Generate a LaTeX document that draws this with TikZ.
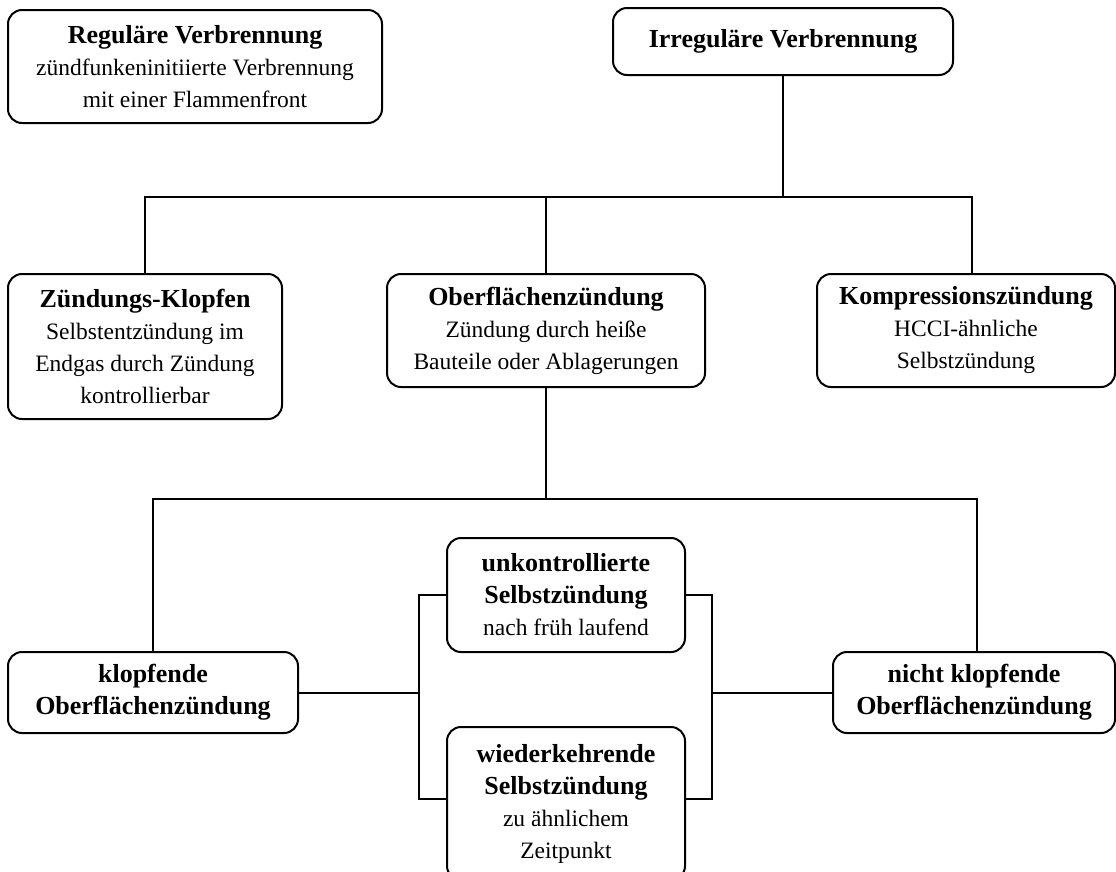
\documentclass[tikz,border=0pt]{standalone}
\usepackage{fontspec}
\setmainfont{Liberation Serif}
\newcommand{\hd}[1]{{\bfseries\fontsize{26}{32}\selectfont #1}}
\tikzset{
  box/.style={draw, line width=2pt, rounded corners=14pt, inner sep=0pt,
    align=center, font=\fontsize{23.5}{32}\selectfont},
  conn/.style={line width=2pt}
}
\begin{document}
\begin{tikzpicture}[x=1pt,y=-1pt]
\useasboundingbox (0,0) rectangle (1116,871);
\node[box, minimum width=374pt, minimum height=113pt] (reg) at (195,66.5)
  {\hd{Reguläre Verbrennung}\\zündfunkeninitiierte Verbrennung\\mit einer Flammenfront};
\node[box, minimum width=340pt, minimum height=67pt] (irr) at (783,41.5)
  {\hd{Irreguläre Verbrennung}};
\node[box, minimum width=274pt, minimum height=145pt] (zk) at (145,346.5)
  {\hd{Zündungs-Klopfen}\\Selbstentzündung im\\Endgas durch Zündung\\kontrollierbar};
\node[box, minimum width=318pt, minimum height=113pt] (ob) at (546,330.5)
  {\hd{Oberflächenzündung}\\Zündung durch heiße\\Bauteile oder Ablagerungen};
\node[box, minimum width=298pt, minimum height=113pt] (kz) at (966,330.5)
  {\hd{Kompressionszündung}\\HCCI-ähnliche\\Selbstzündung};
\node[box, minimum width=290pt, minimum height=81pt] (kl) at (153,692.5)
  {\hd{klopfende}\\\hd{Oberflächenzündung}};
\node[box, minimum width=282pt, minimum height=81pt] (nk) at (974,692.5)
  {\hd{nicht klopfende}\\\hd{Oberflächenzündung}};
\node[box, minimum width=238pt, minimum height=114pt] (uk) at (566,595)
  {\hd{unkontrollierte}\\\hd{Selbstzündung}\\nach früh laufend};
\node[box, minimum width=238pt, minimum height=153pt] (wk) at (566,803.5)
  {\hd{wiederkehrende}\\\hd{Selbstzündung}\\zu ähnlichem\\Zeitpunkt};
\coordinate (j1) at (783,197);
\coordinate (j2) at (546,499);
\coordinate (jl) at (419,692.5);
\coordinate (jr) at (712,692.5);
\draw[conn] (irr.south) -- (j1);
\draw[conn] (zk.north) |- (j1) -| ([xshift=6pt]kz.north);
\draw[conn] (ob.north) -- (ob.north |- j1);
\draw[conn] (ob.south) -- (j2);
\draw[conn] (kl.north) |- (j2) -| ([xshift=3pt]nk.north);
\draw[conn] (kl.east) -- (jl);
\draw[conn] (uk.west) -| (jl) |- ([yshift=4.5pt]wk.west);
\draw[conn] (uk.east) -| (jr) |- ([yshift=4.5pt]wk.east);
\draw[conn] (jr) -- (nk.west);
\end{tikzpicture}
\end{document}
